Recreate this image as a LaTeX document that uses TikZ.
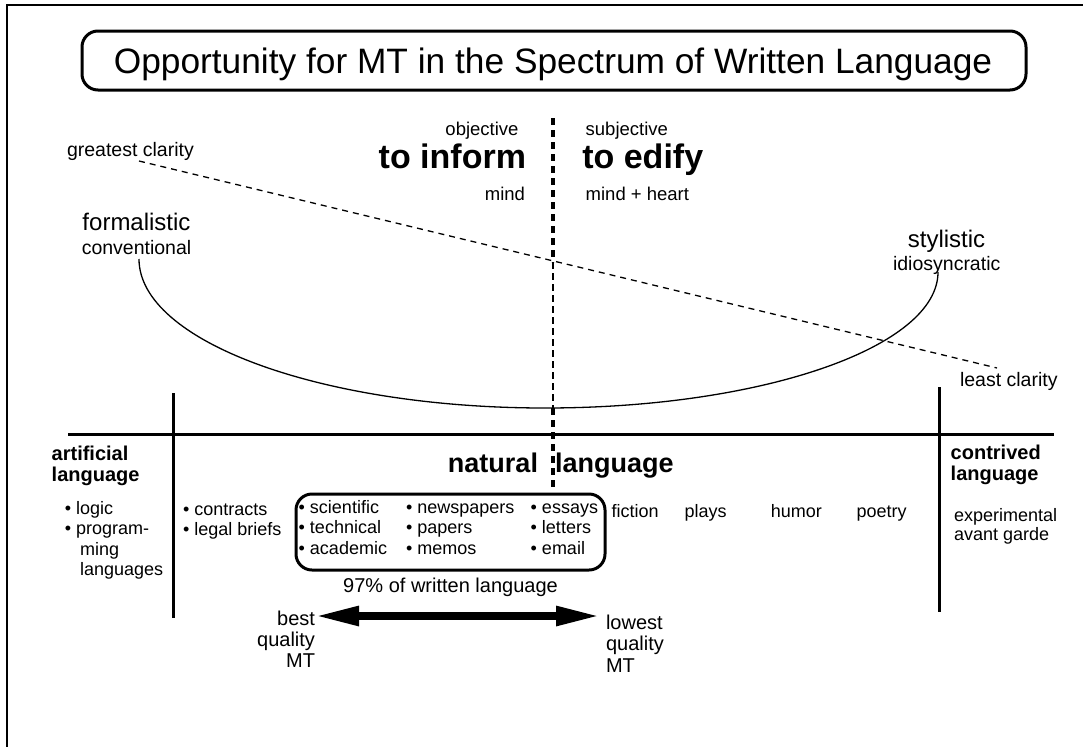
\documentclass[tikz,border=0pt]{standalone}
\usepackage{fontspec}
\setmainfont{Liberation Sans}
\usetikzlibrary{arrows.meta}

\tikzset{
  lbl/.style={inner sep=0pt, outer sep=0pt},
  titletext/.style={lbl, font=\fontsize{35.3}{40}\selectfont},
  small/.style={lbl, font=\fontsize{19.5}{21}\selectfont},
  pole/.style={lbl, font=\fontsize{24}{26}\selectfont},
  aim/.style={lbl, font=\fontsize{18.5}{20}\selectfont},
  purpose/.style={lbl, font=\bfseries\fontsize{34}{38}\selectfont},
  head/.style={lbl, font=\bfseries\fontsize{20}{21.5}\selectfont, align=left},
  nat/.style={lbl, font=\bfseries\fontsize{27}{30}\selectfont},
  item/.style={lbl, font=\fontsize{18}{20.4}\selectfont, align=left},
  note/.style={lbl, font=\fontsize{20}{21.4}\selectfont},
  thickdash/.style={line width=3.5pt, dash pattern=on 7pt off 5pt},
  thindash/.style={line width=1.4pt, dash pattern=on 7pt off 4pt},
  clarity/.style={line width=1.3pt, dash pattern=on 6pt off 5pt},
  bar/.style={line width=3pt},
  roundbox/.style={draw, line width=3pt, rounded corners=16pt},
  qualityarrow/.style={line width=7.7pt,
    {Triangle[length=44pt,width=18.3pt]}-{Triangle[length=44pt,width=18.3pt]}},
}

\begin{document}
\begin{tikzpicture}[x=1pt,y=-1pt]
\useasboundingbox (0,0) rectangle (1083,747);
\fill[white] (0,0) rectangle (1083,747);

% page frame
\draw[line width=2pt] (1083,5) -- (7,5) -- (7,747);

% title
\draw[roundbox] (82,31) rectangle (1026,90);
\node[titletext, anchor=base] (title) at (553,73)
  {Opportunity for MT in the Spectrum of Written Language};

% purpose divider
\coordinate (vA) at (553,118);
\coordinate (vB) at (553,262);
\coordinate (vC) at (553,408);
\coordinate (vD) at (553,488);
\draw[thickdash] (vA) -- (vB);
\draw[thindash] (vB) -- (vC);
\draw[thickdash] (vC) -- (vD);

\node[aim, anchor=base east] (obj) at (518.5,135) {objective};
\node[purpose, anchor=base east] (inform) at (526,168.5) {to inform};
\node[aim, anchor=base east] (mind) at (525,200) {mind};
\node[aim, anchor=base west] (subj) at (585.7,135) {subjective};
\node[purpose, anchor=base west] (edify) at (582.3,168.5) {to edify};
\node[aim, anchor=base west] (heart) at (585.7,200) {mind + heart};

% clarity slope
\node[small, anchor=base west] (greatest) at (67,156) {greatest clarity};
\node[small, anchor=base west] (least) at (960,386.7) {least clarity};
\coordinate (gc) at (139,161);
\coordinate (lc) at (997,368);
\draw[clarity] (gc) -- (lc);

% style arc
\node[pole, anchor=base] (formal) at (136.5,230.5) {formalistic};
\node[small, anchor=base] (conv) at (136.5,254) {conventional};
\node[pole, anchor=base] (styl) at (946.5,247.5) {stylistic};
\node[small, anchor=base] (idio) at (946.7,270.5) {idiosyncratic};
\coordinate (arcL) at (139,259);
\draw[line width=1.3pt] (arcL)
  arc[start angle=180, end angle=90, x radius=406, y radius=149]
  arc[start angle=90, end angle=0, x radius=393, y radius=136];

% axis and category bars
\coordinate (axL) at (68,434);
\coordinate (axR) at (1054,434);
\draw[bar] (axL) -- (axR);
\coordinate (lbT) at (173,393);
\coordinate (lbB) at (173,618);
\coordinate (rbT) at (939,387);
\coordinate (rbB) at (939,612);
\draw[bar] (lbT) -- (lbB);
\draw[bar] (rbT) -- (rbB);

% categories (multi-line nodes sit on the baseline of their last line)
\node[head, anchor=base west] (art) at (51.7,481.5) {artificial\\language};
\node[head, anchor=base west] (contr) at (950.7,480.5) {contrived\\language};
\node[nat, anchor=base east] (natural) at (538,472) {natural};
\node[nat, anchor=base west] (natlang) at (555,472) {language};

\node[item, anchor=base west] (artitems) at (64.8,575.7)
  {\textbullet\ logic\\\textbullet\ program-\\
   \hphantom{\textbullet\ }\hspace{4pt}ming\\
   \hphantom{\textbullet\ }\hspace{4pt}languages};
\node[item, anchor=base west] (legal) at (183,535.9)
  {\textbullet\ contracts\\\textbullet\ legal briefs};

% the 97% group
\draw[roundbox] (296,494) rectangle (605,570);
\node[item, anchor=base west] (col1) at (298.7,554)
  {\textbullet\ scientific\\\textbullet\ technical\\\textbullet\ academic};
\node[item, anchor=base west] (col2) at (406,554)
  {\textbullet\ newspapers\\\textbullet\ papers\\\textbullet\ memos};
\node[item, anchor=base west] (col3) at (530.7,554)
  {\textbullet\ essays\\\textbullet\ letters\\\textbullet\ email};
\node[note, anchor=base] (pct) at (450.5,592) {97\% of written language};

\node[item, anchor=base west] (fiction) at (611.6,517) {fiction};
\node[item, anchor=base west] (plays) at (684.6,517) {plays};
\node[item, anchor=base west] (humor) at (770.8,517) {humor};
\node[item, anchor=base west] (poetry) at (856.6,517) {poetry};
\node[item, anchor=base west] (exper) at (954,540.5)
  {experimental\\[-1pt]avant garde};

% MT quality range
\node[note, align=right, anchor=base east] (best) at (315,667.8)
  {best\\quality\\MT};
\node[note, align=left, anchor=base west] (lowest) at (606,672)
  {lowest\\quality\\MT};
\coordinate (qL) at (315,616);
\coordinate (qR) at (600,616);
\draw[qualityarrow] (qL) -- (qR);
\end{tikzpicture}
\end{document}
